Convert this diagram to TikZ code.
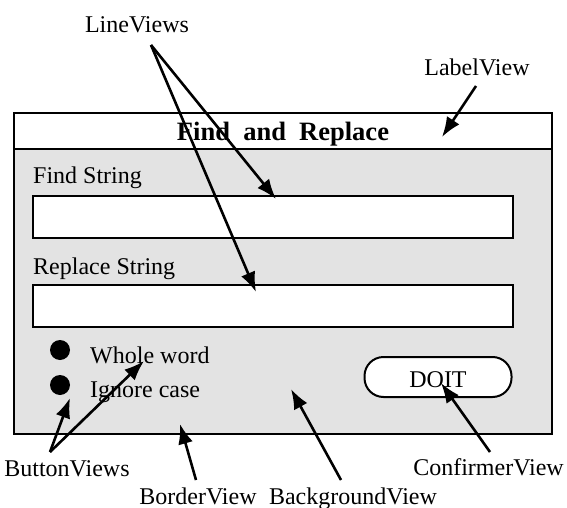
\documentclass[tikz,border=0pt]{standalone}
\usepackage{fontspec}
\setmainfont{Liberation Serif}
\usetikzlibrary{arrows.meta}
\begin{document}
\begin{tikzpicture}[x=1pt,y=-1pt,
  lbl/.style={font=\fontsize{24}{28}\selectfont, inner sep=0pt},
  ptr/.style={line width=2.6pt, -{Latex[length=20pt,width=15pt]}},
  field/.style={draw, line width=2pt, fill=white},
  bullet/.style={circle, fill=black, minimum size=20pt, inner sep=0pt}]
\useasboundingbox (0,0) rectangle (567,508);
% border / background
\draw[line width=2pt, fill=gray!22] (14,113) rectangle (552,434);
% label view (title bar)
\draw[line width=2pt, fill=white] (14,113) rectangle (552,149);
\node[lbl, font=\fontsize{26.5}{30}\selectfont\bfseries, anchor=base] (title) at (283,140) {Find\ \ and\ \ Replace};
% line views
\node[lbl, anchor=base west] (findlbl) at (33,183) {Find String};
\draw[field] (33,196) rectangle (513,238);
\node[lbl, anchor=base west] (repllbl) at (33,274) {Replace String};
\draw[field] (33,285) rectangle (513,327);
% button views
\node[bullet] (b1) at (60,350) {};
\node[bullet] (b2) at (60,385) {};
\node[lbl, anchor=base west] (whole) at (90,363) {Whole word};
\node[lbl, anchor=base west] (ignore) at (90,397) {Ignore case};
% confirmer view
\node[draw, line width=2pt, fill=white, rounded corners=19pt, minimum width=147pt, minimum height=40pt, inner sep=0pt] (doit) at (438,377) {};
\node[lbl, anchor=base] (doittxt) at (438,387) {DOIT};
% annotation labels
\node[lbl, anchor=base] (lineviews) at (137,33) {LineViews};
\node[lbl, anchor=base] (labelview) at (477,76) {LabelView};
\node[lbl, anchor=base] (buttonviews) at (67,476) {ButtonViews};
\node[lbl, anchor=base east] (confirmer) at (564,475) {ConfirmerView};
\node[lbl, anchor=base] (borderview) at (198,504) {BorderView};
\node[lbl, anchor=base] (backview) at (353,504) {BackgroundView};
% arrow targets
\coordinate (t1) at (276,199);
\coordinate (t2) at (256,292);
\coordinate (tl) at (442,137);
\coordinate (tb1) at (70,398);
\coordinate (tb2) at (144,361);
\coordinate (tbo) at (180,424);
\coordinate (tbg) at (291,389);
\coordinate (tc) at (441,383);
\coordinate (sl) at (151,45);
\coordinate (sb) at (50,452);
% arrows
\draw[ptr] (sl) -- (t1);
\draw[ptr] (sl) -- (t2);
\draw[ptr] (476,86) -- (tl);
\draw[ptr] (sb) -- (tb1);
\draw[ptr] (sb) -- (tb2);
\draw[ptr] (196,480) -- (tbo);
\draw[ptr] (341,480) -- (tbg);
\draw[ptr] (490,452) -- (tc);
\end{tikzpicture}
\end{document}
